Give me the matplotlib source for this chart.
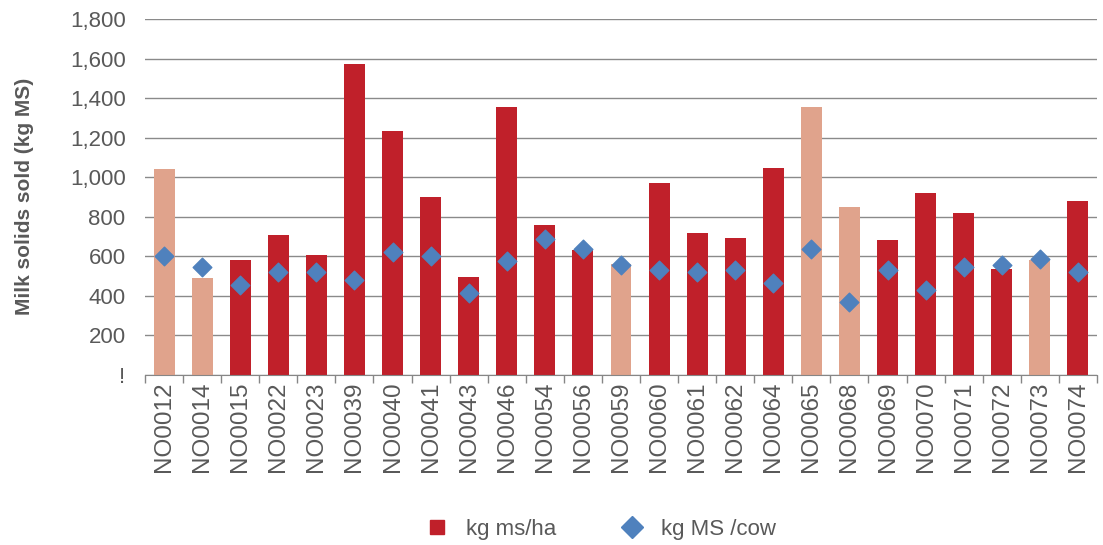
import matplotlib
matplotlib.use("Agg")
import matplotlib.pyplot as plt
from matplotlib.lines import Line2D
from matplotlib.ticker import FixedLocator

plt.rcParams['font.family'] = ['Liberation Sans', 'DejaVu Sans']

farms = ["NO0012", "NO0014", "NO0015", "NO0022", "NO0023", "NO0039", "NO0040",
         "NO0041", "NO0043", "NO0046", "NO0054", "NO0056", "NO0059", "NO0060",
         "NO0061", "NO0062", "NO0064", "NO0065", "NO0068", "NO0069", "NO0070",
         "NO0071", "NO0072", "NO0073", "NO0074"]
ms_per_ha = [1040, 490, 580, 705, 605, 1572, 1232, 897, 495, 1355, 757, 630,
             560, 972, 717, 690, 1048, 1355, 847, 680, 920, 820, 537, 580, 880]
ms_per_cow = [600, 545, 455, 520, 520, 480, 622, 600, 415, 573, 685, 635,
              557, 532, 520, 532, 465, 635, 365, 532, 430, 545, 557, 585, 520]
# farms shown in the lighter colour
light_farms = ["NO0012", "NO0014", "NO0059", "NO0065", "NO0068", "NO0073"]

dark_red = "#C0202A"
light_red = "#E0A38C"
blue = "#4F81BD"
grey_text = "#595959"

colors = [light_red if f in light_farms else dark_red for f in farms]

fig = plt.figure(figsize=(11.03, 5.45), dpi=100)
ax = fig.add_axes([0.1315, 0.3128, 0.863, 0.652])

x = list(range(len(farms)))
ax.bar(x, ms_per_ha, width=0.55, color=colors, zorder=2)
ax.scatter(x, ms_per_cow, marker="D", s=90, color=blue, zorder=3)

ax.set_xlim(-0.5, len(farms) - 0.5)
ax.set_ylim(0, 1800)
yt = list(range(0, 1801, 200))
ax.set_yticks(yt)
ax.set_yticklabels(["!"] + [f"{v:,}" for v in yt[1:]])
ax.yaxis.grid(True, color="#8a8a8a", linewidth=1.0, zorder=0)
ax.tick_params(axis="y", length=0, pad=14, labelsize=16, labelcolor=grey_text)

ax.set_xticks(x)
ax.set_xticklabels(farms, rotation=90)
ax.xaxis.set_minor_locator(FixedLocator([i - 0.5 for i in range(len(farms) + 1)]))
ax.tick_params(axis="x", which="major", length=0, pad=5, labelsize=17.5, labelcolor=grey_text)
ax.tick_params(axis="x", which="minor", length=6, color="#868686", width=1)

for side in ["left", "right", "top"]:
    ax.spines[side].set_visible(False)
ax.spines["bottom"].set_color("#868686")

ax.set_ylabel("Milk solids sold (kg MS)", fontsize=15, fontweight="bold",
              color=grey_text, labelpad=26)

handles = [
    Line2D([], [], linestyle="none", marker="s", markersize=10, color=dark_red),
    Line2D([], [], linestyle="none", marker="D", markersize=11, color=blue),
]
fig.legend(handles, ["kg ms/ha", "kg MS /cow"], loc="lower center",
           bbox_to_anchor=(0.54, -0.028), ncol=2, frameon=False, fontsize=16,
           labelcolor=grey_text, columnspacing=2.4, handletextpad=0.3)

fig.savefig("out.png", dpi=100)
